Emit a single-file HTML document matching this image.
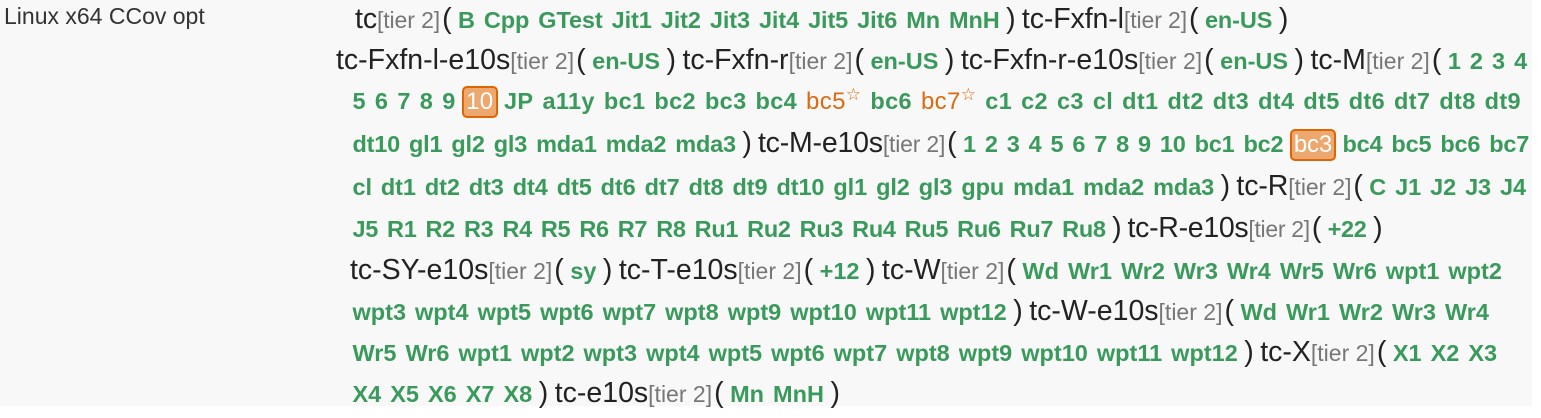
<!DOCTYPE html>
<html><head><meta charset="utf-8"><style>
body{margin:0;width:1541px;height:406px;background:#fff;overflow:hidden;font-family:"Liberation Sans",sans-serif}
#bg{position:absolute;left:0;top:0;width:1532px;height:406px;background:#f8f8f8}
#lab{position:absolute;left:4px;top:3px;font-size:23px;color:#333}
.l{position:absolute;white-space:nowrap;height:41px;line-height:41px}
.g{font-size:28.5px;color:#222}
.t{font-size:23px;color:#777}
.p{font-size:28.5px;color:#222;margin:0 2px}
.j{font-size:23.5px;font-weight:bold;color:#3a9a5c;margin:0 4.5px}
.o{font-size:24px;color:#dd6a10;margin:0 4.5px}
.o sup{font-size:17px;line-height:0}
.b{display:inline-block;font-size:24px;color:#fff;background:#eda86f;border:2px solid #dd6602;border-radius:5px;padding:0 2px;line-height:28px;margin:0 2px}
</style></head><body>
<div id="bg"></div>
<div id="lab">Linux x64 CCov opt</div>
<div class="l" style="left:355px;top:-1px;letter-spacing:-0.1px"><span class="g">tc</span><span class="t">[tier 2]</span><span class="p">(</span><span class="j">B</span><span class="j">Cpp</span><span class="j">GTest</span><span class="j">Jit1</span><span class="j">Jit2</span><span class="j">Jit3</span><span class="j">Jit4</span><span class="j">Jit5</span><span class="j">Jit6</span><span class="j">Mn</span><span class="j">MnH</span><span class="p">)</span> <span class="g">tc-Fxfn-l</span><span class="t">[tier 2]</span><span class="p">(</span><span class="j">en-US</span><span class="p">)</span></div>
<div class="l" style="left:336px;top:40px"><span class="g">tc-Fxfn-l-e10s</span><span class="t">[tier 2]</span><span class="p">(</span><span class="j">en-US</span><span class="p">)</span> <span class="g">tc-Fxfn-r</span><span class="t">[tier 2]</span><span class="p">(</span><span class="j">en-US</span><span class="p">)</span> <span class="g">tc-Fxfn-r-e10s</span><span class="t">[tier 2]</span><span class="p">(</span><span class="j">en-US</span><span class="p">)</span> <span class="g">tc-M</span><span class="t">[tier 2]</span><span class="p">(</span><span class="j">1</span><span class="j">2</span><span class="j">3</span><span class="j">4</span></div>
<div class="l" style="left:348px;top:81px;letter-spacing:0.35px"><span class="j">5</span><span class="j">6</span><span class="j">7</span><span class="j">8</span><span class="j">9</span><span class="b">10</span><span class="j">JP</span><span class="j">a11y</span><span class="j">bc1</span><span class="j">bc2</span><span class="j">bc3</span><span class="j">bc4</span><span class="o">bc5<sup>☆</sup></span><span class="j">bc6</span><span class="o">bc7<sup>☆</sup></span><span class="j">c1</span><span class="j">c2</span><span class="j">c3</span><span class="j">cl</span><span class="j">dt1</span><span class="j">dt2</span><span class="j">dt3</span><span class="j">dt4</span><span class="j">dt5</span><span class="j">dt6</span><span class="j">dt7</span><span class="j">dt8</span><span class="j">dt9</span></div>
<div class="l" style="left:348px;top:123px;letter-spacing:-0.2px"><span class="j">dt10</span><span class="j">gl1</span><span class="j">gl2</span><span class="j">gl3</span><span class="j">mda1</span><span class="j">mda2</span><span class="j">mda3</span><span class="p">)</span> <span class="g">tc-M-e10s</span><span class="t">[tier 2]</span><span class="p">(</span><span class="j">1</span><span class="j">2</span><span class="j">3</span><span class="j">4</span><span class="j">5</span><span class="j">6</span><span class="j">7</span><span class="j">8</span><span class="j">9</span><span class="j">10</span><span class="j">bc1</span><span class="j">bc2</span><span class="b">bc3</span><span class="j">bc4</span><span class="j">bc5</span><span class="j">bc6</span><span class="j">bc7</span></div>
<div class="l" style="left:348px;top:166px;letter-spacing:-0.1px"><span class="j">cl</span><span class="j">dt1</span><span class="j">dt2</span><span class="j">dt3</span><span class="j">dt4</span><span class="j">dt5</span><span class="j">dt6</span><span class="j">dt7</span><span class="j">dt8</span><span class="j">dt9</span><span class="j">dt10</span><span class="j">gl1</span><span class="j">gl2</span><span class="j">gl3</span><span class="j">gpu</span><span class="j">mda1</span><span class="j">mda2</span><span class="j">mda3</span><span class="p">)</span> <span class="g">tc-R</span><span class="t">[tier 2]</span><span class="p">(</span><span class="j">C</span><span class="j">J1</span><span class="j">J2</span><span class="j">J3</span><span class="j">J4</span></div>
<div class="l" style="left:348px;top:208px;letter-spacing:-0.3px"><span class="j">J5</span><span class="j">R1</span><span class="j">R2</span><span class="j">R3</span><span class="j">R4</span><span class="j">R5</span><span class="j">R6</span><span class="j">R7</span><span class="j">R8</span><span class="j">Ru1</span><span class="j">Ru2</span><span class="j">Ru3</span><span class="j">Ru4</span><span class="j">Ru5</span><span class="j">Ru6</span><span class="j">Ru7</span><span class="j">Ru8</span><span class="p">)</span> <span class="g">tc-R-e10s</span><span class="t">[tier 2]</span><span class="p">(</span><span class="j">+22</span><span class="p">)</span></div>
<div class="l" style="left:350px;top:250px"><span class="g">tc-SY-e10s</span><span class="t">[tier 2]</span><span class="p">(</span><span class="j">sy</span><span class="p">)</span> <span class="g">tc-T-e10s</span><span class="t">[tier 2]</span><span class="p">(</span><span class="j">+12</span><span class="p">)</span> <span class="g">tc-W</span><span class="t">[tier 2]</span><span class="p">(</span><span class="j">Wd</span><span class="j">Wr1</span><span class="j">Wr2</span><span class="j">Wr3</span><span class="j">Wr4</span><span class="j">Wr5</span><span class="j">Wr6</span><span class="j">wpt1</span><span class="j">wpt2</span></div>
<div class="l" style="left:348px;top:291px"><span class="j">wpt3</span><span class="j">wpt4</span><span class="j">wpt5</span><span class="j">wpt6</span><span class="j">wpt7</span><span class="j">wpt8</span><span class="j">wpt9</span><span class="j">wpt10</span><span class="j">wpt11</span><span class="j">wpt12</span><span class="p">)</span> <span class="g">tc-W-e10s</span><span class="t">[tier 2]</span><span class="p">(</span><span class="j">Wd</span><span class="j">Wr1</span><span class="j">Wr2</span><span class="j">Wr3</span><span class="j">Wr4</span></div>
<div class="l" style="left:348px;top:332px"><span class="j">Wr5</span><span class="j">Wr6</span><span class="j">wpt1</span><span class="j">wpt2</span><span class="j">wpt3</span><span class="j">wpt4</span><span class="j">wpt5</span><span class="j">wpt6</span><span class="j">wpt7</span><span class="j">wpt8</span><span class="j">wpt9</span><span class="j">wpt10</span><span class="j">wpt11</span><span class="j">wpt12</span><span class="p">)</span> <span class="g">tc-X</span><span class="t">[tier 2]</span><span class="p">(</span><span class="j">X1</span><span class="j">X2</span><span class="j">X3</span></div>
<div class="l" style="left:348px;top:373px"><span class="j">X4</span><span class="j">X5</span><span class="j">X6</span><span class="j">X7</span><span class="j">X8</span><span class="p">)</span> <span class="g">tc-e10s</span><span class="t">[tier 2]</span><span class="p">(</span><span class="j">Mn</span><span class="j">MnH</span><span class="p">)</span></div>
</body></html>
